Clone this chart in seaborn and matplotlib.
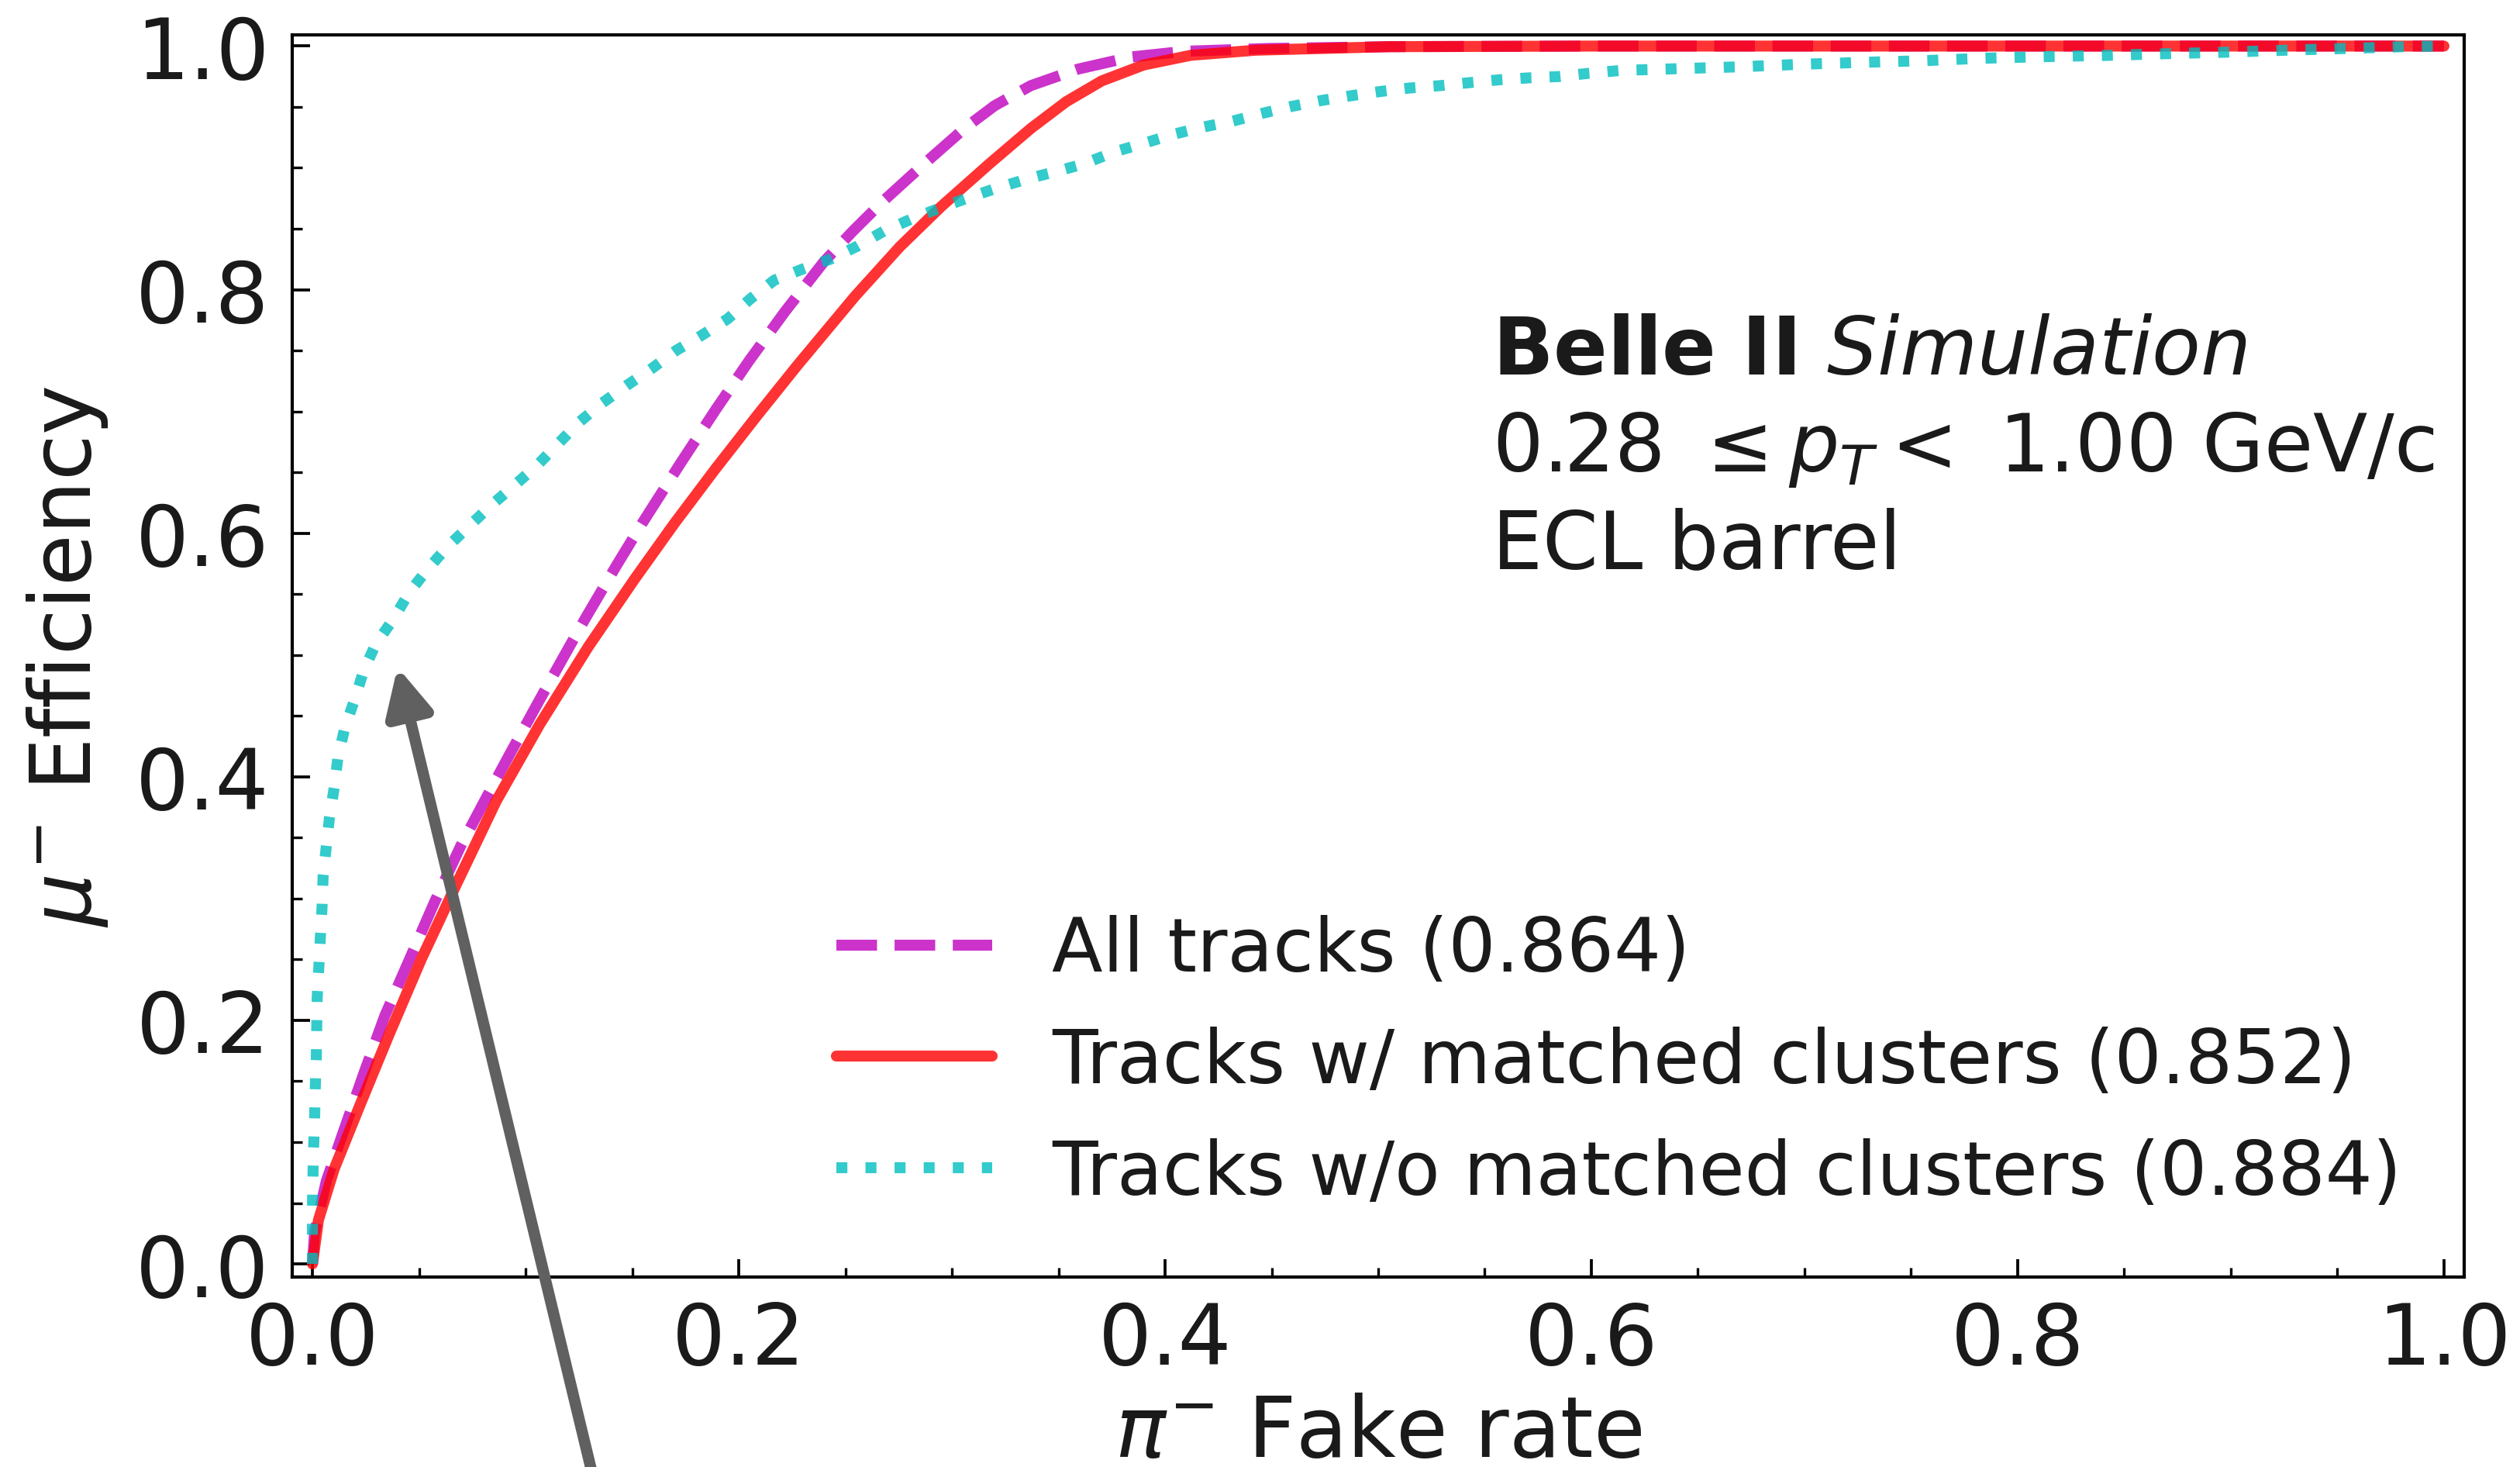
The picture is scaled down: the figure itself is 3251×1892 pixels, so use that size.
import matplotlib
matplotlib.use("Agg")
import matplotlib.pyplot as plt
import seaborn as sns
from matplotlib.ticker import MultipleLocator

# ---------------- data ----------------
all_x = [0.0, 0.001, 0.0065, 0.015, 0.024, 0.034, 0.0455, 0.0575, 0.0695, 0.0816,
         0.093, 0.1065, 0.118, 0.128, 0.1428, 0.155, 0.1725, 0.189, 0.205, 0.2217,
         0.240, 0.2535, 0.2673, 0.2868, 0.3063, 0.320, 0.337, 0.359, 0.384, 0.409,
         0.448, 0.505, 0.6, 0.8, 1.0]
all_y = [0.0, 0.026, 0.068, 0.111, 0.156, 0.204, 0.250, 0.298, 0.343, 0.383,
         0.420, 0.463, 0.499, 0.530, 0.574, 0.609, 0.657, 0.701, 0.742, 0.782,
         0.823, 0.848, 0.872, 0.903, 0.933, 0.951, 0.9675, 0.981, 0.991, 0.9957,
         0.998, 0.9995, 1.0, 1.0, 1.0]

matched_x = [0.0, 0.0028, 0.0102, 0.0222, 0.036, 0.051, 0.0676, 0.0862, 0.1066, 0.1295,
             0.151, 0.1697, 0.189, 0.2087, 0.2273, 0.2545, 0.2756, 0.2952, 0.3175, 0.337,
             0.3536, 0.3703, 0.390, 0.412, 0.4425, 0.505, 0.6, 0.8, 1.0]
matched_y = [0.0, 0.036, 0.078, 0.130, 0.1886, 0.250, 0.312, 0.380, 0.443, 0.507,
             0.562, 0.6078, 0.6527, 0.6968, 0.7374, 0.7945, 0.8353, 0.8686, 0.9032, 0.9323,
             0.9543, 0.9714, 0.9845, 0.9924, 0.9966, 0.9995, 1.0, 1.0, 1.0]

unmatched_x = [0.0, 0.0, 0.0002, 0.0005, 0.001, 0.0013, 0.0018, 0.002, 0.0022, 0.003,
               0.0037, 0.0045, 0.005, 0.0065, 0.008, 0.0102, 0.012, 0.0153, 0.0199, 0.024,
               0.0297, 0.038, 0.0455, 0.0538, 0.0634, 0.0736, 0.0839, 0.0945, 0.105, 0.115,
               0.125, 0.136, 0.1475, 0.159, 0.1706, 0.1827, 0.1948, 0.2055, 0.2167, 0.2297,
               0.243, 0.256, 0.268, 0.281, 0.2938, 0.3076, 0.3216, 0.3356, 0.3495, 0.362,
               0.376, 0.3898, 0.4036, 0.4176, 0.4316, 0.4455, 0.4593, 0.4733, 0.4872, 0.501,
               0.515, 0.529, 0.543, 0.5567, 0.5707, 0.585, 0.599, 0.614, 0.642, 0.670,
               0.6975, 0.727, 0.756, 0.784, 0.8117, 0.841, 0.8687, 0.8966, 0.9258, 0.9536,
               0.983, 1.0]
unmatched_y = [0.0, 0.046, 0.07, 0.094, 0.119, 0.144, 0.169, 0.194, 0.218, 0.244,
               0.268, 0.293, 0.3185, 0.343, 0.367, 0.391, 0.4166, 0.441, 0.464, 0.487,
               0.509, 0.5296, 0.5516, 0.570, 0.589, 0.606, 0.623, 0.639, 0.655, 0.673,
               0.691, 0.707, 0.7214, 0.735, 0.750, 0.7626, 0.776, 0.7925, 0.8078, 0.8167,
               0.825, 0.836, 0.848, 0.858, 0.8666, 0.8754, 0.8837, 0.891, 0.8973, 0.9033,
               0.913, 0.920, 0.9274, 0.9334, 0.9383, 0.9447, 0.9504, 0.9553, 0.9592, 0.9627,
               0.9656, 0.9675, 0.970, 0.9723, 0.9739, 0.975, 0.9777, 0.980, 0.9815, 0.983,
               0.985, 0.9866, 0.988, 0.990, 0.9913, 0.9923, 0.9937, 0.9949, 0.9966, 0.998,
               0.9996, 1.0]

labels = ["All tracks (0.864)",
          "Tracks w/ matched clusters (0.852)",
          "Tracks w/o matched clusters (0.884)"]
colors = ["m", "r", "c"]
styles = ["--", "-", ":"]

x_ticks = [0.0, 0.2, 0.4, 0.6, 0.8, 1.0]
y_ticks = [0.0, 0.2, 0.4, 0.6, 0.8, 1.0]

# ---------------- figure ----------------
sns.set_style("ticks")
plt.rcParams["font.family"] = ["DejaVu Sans"]
plt.rcParams["mathtext.fontset"] = "dejavusans"
plt.rcParams["text.color"] = "#1a1a1a"
plt.rcParams["axes.labelcolor"] = "#1a1a1a"
plt.rcParams["xtick.color"] = "#1a1a1a"
plt.rcParams["ytick.color"] = "#1a1a1a"

fig = plt.figure(figsize=(3251 / 300, 1893 / 300), dpi=300)
ax = fig.add_axes([0.11596, 0.12942, 0.8619, 0.8463])

series = [(all_x, all_y), (matched_x, matched_y), (unmatched_x, unmatched_y)]
for (xs, ys), lab, col, ls in zip(series, labels, colors, styles):
    sns.lineplot(x=xs, y=ys, ax=ax, color=col, linestyle=ls, linewidth=3.4,
                 alpha=0.8, label=lab, sort=False, estimator=None,
                 solid_capstyle="round")

ax.set_xlim(-0.0095, 1.0095)
ax.set_ylim(-0.0108, 1.0092)
ax.set_xticks(x_ticks)
ax.set_yticks(y_ticks)
ax.xaxis.set_minor_locator(MultipleLocator(0.05))
ax.yaxis.set_minor_locator(MultipleLocator(0.05))
ax.tick_params(which="both", direction="in", top=False, right=False,
               labelsize=26, pad=7)
ax.tick_params(which="major", length=5.5, width=0.9, color="black")
ax.tick_params(which="minor", length=3, width=0.8, color="black")
for sp in ax.spines.values():
    sp.set_visible(True)
    sp.set_linewidth(1.0)
    sp.set_color("black")

ax.set_xlabel(r"$\pi^{-}$ Fake rate", fontsize=26, labelpad=3)
ax.set_ylabel(r"$\mu^{-}$ Efficiency", fontsize=26, labelpad=8)

leg = ax.legend(loc="upper left", bbox_to_anchor=(0.2505, 0.292), frameon=False,
                fontsize=23, borderpad=0, borderaxespad=0, handlelength=2.1,
                handletextpad=0.8, labelspacing=0.53)

ax.text(0.5525, 0.727, r"$\mathbf{Belle\ II}$ $\mathit{Simulation}$",
        transform=ax.transAxes, fontsize=24.7, ha="left", va="baseline")
ax.text(0.5525, 0.649, r"0.28 $\leq p_T <$ 1.00 GeV/c",
        transform=ax.transAxes, fontsize=24.7, ha="left", va="baseline")
ax.text(0.5525, 0.5712, "ECL barrel",
        transform=ax.transAxes, fontsize=24.7, ha="left", va="baseline")

ax.annotate("", xy=(0.0399, 0.490), xytext=(0.1355, -0.203),
            xycoords="data", textcoords="data", annotation_clip=False,
            arrowprops=dict(arrowstyle="-|>,head_length=0.6,head_width=0.3",
                            color="#606060", lw=3.5, mutation_scale=20,
                            shrinkA=0, shrinkB=0))

fig.savefig("out.png", dpi=300)
